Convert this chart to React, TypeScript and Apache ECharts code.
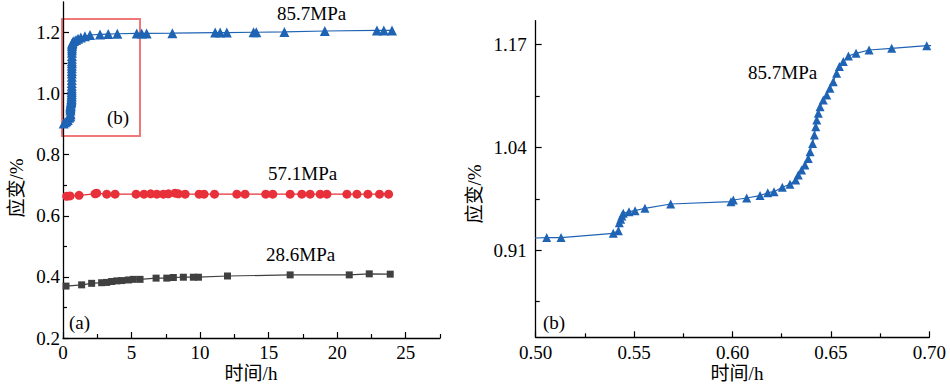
import React, { useEffect, useRef } from "react";
import * as echarts from "echarts";

// 85.7 MPa (blue, triangles)
const blueT = [
  0.05, 0.15, 0.25, 0.35, 0.45,
  0.5056, 0.5129, 0.5394, 0.542, 0.5425, 0.5432, 0.5438, 0.5445, 0.5474, 0.5505, 0.5555, 0.5686,
  0.5992, 0.6004, 0.6072, 0.614, 0.6179, 0.6211, 0.6253, 0.6292, 0.6321, 0.6334, 0.6351, 0.6368,
  0.6385, 0.6394, 0.6407, 0.6416, 0.6423, 0.6428, 0.6436, 0.6445, 0.6461, 0.6479, 0.6495, 0.6512,
  0.6529, 0.6543, 0.6563, 0.6589, 0.6628, 0.6694, 0.6809, 0.6987,
  0.8, 0.95, 1.1, 1.3, 1.6, 1.97, 2.7, 3.3, 3.96, 5.38, 5.74, 6.1, 7.98, 11.1, 11.46, 11.95,
  13.9, 14.1, 16.15, 19.1, 22.9, 23.4, 24.0,
];
const blueV = [
  0.902, 0.906, 0.91, 0.914, 0.921,
  0.926, 0.926, 0.9314, 0.9347, 0.9448, 0.949, 0.9533, 0.9567, 0.9587, 0.96, 0.963, 0.9684,
  0.9713, 0.9735, 0.976, 0.979, 0.9827, 0.984, 0.9895, 0.9933, 0.9987, 1.005, 1.0114, 1.0177,
  1.026, 1.0345, 1.045, 1.0556, 1.066, 1.0745, 1.083, 1.0914, 1.0998, 1.1061, 1.1146, 1.123,
  1.1335, 1.142, 1.1483, 1.1554, 1.1588, 1.163, 1.1651, 1.1684,
  1.172, 1.176, 1.18, 1.184, 1.188, 1.192, 1.194, 1.195, 1.196, 1.197, 1.197, 1.197, 1.198, 1.2, 1.2, 1.2,
  1.201, 1.201, 1.202, 1.205, 1.207, 1.207, 1.207,
];

// 57.1 MPa (red, circles)
const redT = [
  0.27, 0.51, 1.17, 2.34, 2.46, 3.19, 3.8, 5.33, 5.91, 6.4, 6.84, 7.32, 7.69, 8.18, 8.42, 8.91,
  9.93, 10.29, 11.05, 12.68, 13.28, 14.79, 15.3, 16.57, 17.42, 18.03, 18.76, 19.25, 20.71, 21.44,
  22.24, 23.09, 23.75,
];
const redV = [
  0.664, 0.665, 0.667, 0.672, 0.674, 0.671, 0.671, 0.671, 0.671, 0.672, 0.671, 0.671, 0.672, 0.674, 0.672, 0.671,
  0.671, 0.671, 0.671, 0.671, 0.671, 0.671, 0.671, 0.671, 0.671, 0.671, 0.671, 0.671, 0.671, 0.671,
  0.671, 0.671, 0.671,
];

// 28.6 MPa (black, squares)
const blackT = [
  0.22, 1.36, 2.09, 2.82, 3.19, 3.55, 3.92, 4.28, 4.77, 5.13, 5.62, 6.79, 7.57, 8.05, 8.78, 9.51,
  9.88, 12.0, 16.57, 20.88, 22.34, 23.87,
];
const blackV = [
  0.37, 0.374, 0.379, 0.381, 0.382, 0.385, 0.387, 0.388, 0.39, 0.392, 0.392, 0.396, 0.396, 0.398, 0.399, 0.399,
  0.399, 0.403, 0.4066, 0.4066, 0.41, 0.409,
];

// axis ticks
const leftXMajor = [0, 5, 10, 15, 20, 25];
const leftXMinor = [2.5, 7.5, 12.5, 17.5, 22.5, 27.5];
const leftYMajor = [0.2, 0.4, 0.6, 0.8, 1.0, 1.2];
const leftYMinor = [0.3, 0.5, 0.7, 0.9, 1.1];
const rightXMajor = [0.5, 0.55, 0.6, 0.65, 0.7];
const rightXMinor = [0.525, 0.575, 0.625, 0.675];
const rightYMajor = [0.91, 1.04, 1.17];
const rightYMinor = [0.845, 0.975, 1.105];

const BLUE = "#1f63b4";
const RED = "#e8303a";
const BLACK = "#404040";
const SERIF = "'Liberation Serif', 'Times New Roman', serif";
const CJK = "'Liberation Serif', 'Noto Sans CJK SC', serif";

const zip = (a: number[], b: number[]) => a.map((x, i) => [x, b[i]]);

export default function App() {
  const ref = useRef<HTMLDivElement>(null);
  useEffect(() => {
    document.body.style.margin = "0";
    const chart = echarts.init(ref.current!, null, { renderer: "svg" });
    const axisLine = { show: true, lineStyle: { color: "#000", width: 1.3 } };
    const labelStyle = { color: "#000", fontSize: 19, fontFamily: SERIF };
    const mkMain = (
      type: "x" | "y",
      gridIndex: number,
      min: number,
      max: number,
      major: number[],
      fmt: (v: number) => string,
      margin: number
    ) => ({
      type: "value",
      gridIndex,
      min,
      max,
      position: type === "x" ? "bottom" : "left",
      axisLine,
      splitLine: { show: false },
      axisTick: { show: true, inside: true, length: 6, customValues: major, lineStyle: { color: "#000", width: 1.2 } },
      axisLabel: { ...labelStyle, margin, customValues: major, formatter: (v: number) => fmt(v) },
    });
    const mkMinor = (type: "x" | "y", gridIndex: number, min: number, max: number, minor: number[]) => ({
      type: "value",
      gridIndex,
      min,
      max,
      position: type === "x" ? "bottom" : "left",
      axisLine: { show: false },
      splitLine: { show: false },
      axisLabel: { show: false },
      axisTick: { show: true, inside: true, length: 4, customValues: minor, lineStyle: { color: "#000", width: 1.2 } },
    });
    const txt = (text: string, x: number, y: number, extra: any = {}) => ({
      type: "text",
      x,
      y,
      style: { text, fill: "#000", fontSize: 19, fontFamily: SERIF, textVerticalAlign: "middle", ...extra },
    });
    chart.setOption({
      animation: false,
      grid: [
        { left: 63, top: 2, right: 510, bottom: 47 },
        { left: 535.7, top: 20.7, right: 20.7, bottom: 47.7 },
      ],
      xAxis: [
        mkMain("x", 0, 0, 27.5, leftXMajor, (v) => String(Math.round(v)), 5),
        mkMain("x", 1, 0.5, 0.7, rightXMajor, (v) => v.toFixed(2), 6),
        mkMinor("x", 0, 0, 27.5, leftXMinor),
        mkMinor("x", 1, 0.5, 0.7, rightXMinor),
      ],
      yAxis: [
        mkMain("y", 0, 0.2, 1.3, leftYMajor, (v) => v.toFixed(1), 3),
        mkMain("y", 1, 0.8, 1.2, rightYMajor, (v) => v.toFixed(2), 9),
        mkMinor("y", 0, 0.2, 1.3, leftYMinor),
        mkMinor("y", 1, 0.8, 1.2, rightYMinor),
      ],
      series: [
        {
          type: "line",
          xAxisIndex: 0,
          yAxisIndex: 0,
          data: zip(blackT, blackV),
          symbol: "rect",
          symbolSize: 7,
          lineStyle: { color: BLACK, width: 1.2 },
          itemStyle: { color: BLACK },
        },
        {
          type: "line",
          xAxisIndex: 0,
          yAxisIndex: 0,
          data: zip(redT, redV),
          symbol: "circle",
          symbolSize: 9,
          lineStyle: { color: RED, width: 1.2 },
          itemStyle: { color: RED },
        },
        {
          type: "line",
          xAxisIndex: 0,
          yAxisIndex: 0,
          data: zip(blueT, blueV),
          symbol: "triangle",
          symbolSize: 10,
          lineStyle: { color: BLUE, width: 1.2 },
          itemStyle: { color: BLUE },
        },
        {
          type: "line",
          xAxisIndex: 1,
          yAxisIndex: 1,
          data: zip(blueT, blueV),
          symbol: "triangle",
          symbolSize: 9,
          clip: true,
          lineStyle: { color: BLUE, width: 1.2 },
          itemStyle: { color: BLUE },
        },
      ],
      graphic: [
        {
          type: "rect",
          shape: { x: 62, y: 19, width: 78, height: 117 },
          style: { fill: "none", stroke: "#f07878", lineWidth: 2 },
        },
        txt("85.7MPa", 277, 13),
        txt("57.1MPa", 268, 173),
        txt("28.6MPa", 266, 254),
        txt("(a)", 69, 322),
        txt("(b)", 107, 117),
        txt("85.7MPa", 748, 72),
        txt("(b)", 543, 322),
        txt("时间/h", 251, 373, { textAlign: "center", fontFamily: CJK }),
        txt("时间/h", 737, 373, { textAlign: "center", fontFamily: CJK }),
        {
          type: "text",
          x: 16,
          y: 188,
          rotation: Math.PI / 2,
          style: { text: "应变/%", fill: "#000", fontSize: 19, fontFamily: CJK, textAlign: "center", textVerticalAlign: "middle" },
        },
        {
          type: "text",
          x: 474,
          y: 194,
          rotation: Math.PI / 2,
          style: { text: "应变/%", fill: "#000", fontSize: 19, fontFamily: CJK, textAlign: "center", textVerticalAlign: "middle" },
        },
      ],
    });
    return () => chart.dispose();
  }, []);
  return <div ref={ref} style={{ width: 950, height: 385 }} />;
}
